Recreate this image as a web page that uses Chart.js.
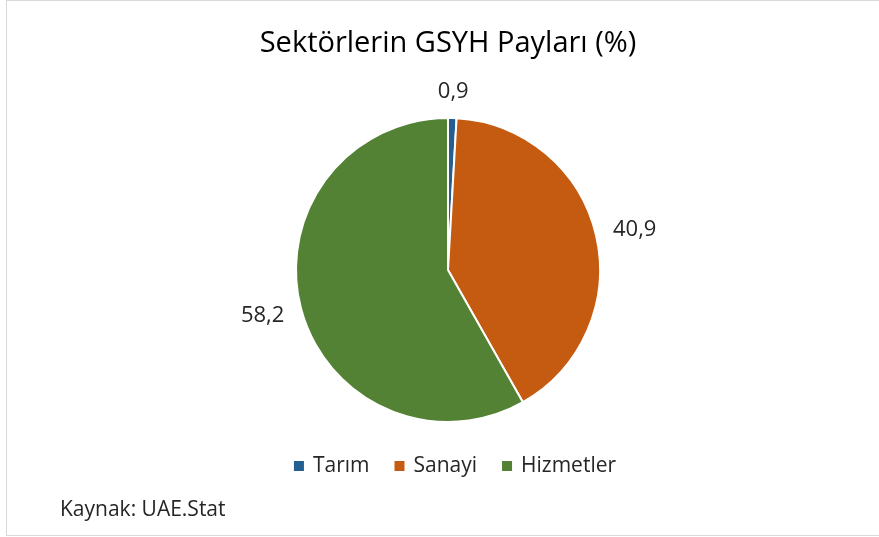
<!DOCTYPE html>
<html>
<head>
<meta charset="utf-8">
<script src="https://cdn.jsdelivr.net/npm/chart.js@4/dist/chart.umd.min.js"></script>
<style>
  html, body { margin: 0; padding: 0; background: #fff; }
  #wrap { width: 879px; height: 537px; }
</style>
</head>
<body>
<div id="wrap"><canvas id="chart" width="879" height="537"></canvas></div>
<script>
const sectors = ['Tarım', 'Sanayi', 'Hizmetler'];
const shares = [0.9, 40.9, 58.2];
const sliceColors = ['#255E91', '#C55A11', '#548235'];
const chartTitle = 'Sektörlerin GSYH Payları (%)';
const sourceNote = 'Kaynak: UAE.Stat';

const fontFamily = '"Open Sans", "Noto Sans", sans-serif';

// border, legend row and source line
const framePlugin = {
  id: 'frame',
  afterDraw(chart) {
    const c = chart.ctx;
    c.save();
    c.strokeStyle = '#D9D9D9';
    c.lineWidth = 1;
    c.strokeRect(6.5, 0.5, 900, 535);

    // legend
    c.font = '21px ' + fontFamily;
    c.textBaseline = 'middle';
    c.textAlign = 'left';
    const box = 10, gapText = 9, gapItem = 25;
    const widths = sectors.map(s => box + gapText + c.measureText(s).width);
    const total = widths.reduce((a, b) => a + b, 0) + gapItem * (sectors.length - 1);
    let x = 455 - total / 2;
    const y = 466;
    sectors.forEach((s, i) => {
      c.fillStyle = sliceColors[i];
      c.fillRect(x, y - box / 2, box, box);
      c.fillStyle = '#262626';
      c.fillText(s, x + box + gapText, y);
      x += widths[i] + gapItem;
    });

    c.fillStyle = '#262626';
    c.font = '21px ' + fontFamily;
    c.fillText(sourceNote, 60, 510);
    c.restore();
  }
};

// value labels outside the slices
const outsideLabels = {
  id: 'outsideLabels',
  afterDatasetsDraw(chart) {
    const c = chart.ctx;
    const meta = chart.getDatasetMeta(0);
    c.save();
    c.font = '22px ' + fontFamily;
    c.fillStyle = '#262626';
    c.textAlign = 'center';
    c.textBaseline = 'middle';
    meta.data.forEach((arc, i) => {
      const p = arc.getProps(['x', 'y', 'startAngle', 'endAngle', 'outerRadius'], true);
      const mid = (p.startAngle + p.endAngle) / 2;
      const dx = Math.cos(mid), dy = Math.sin(mid);
      const txt = shares[i].toFixed(1).replace('.', ',');
      const w = c.measureText(txt).width;
      const r = p.outerRadius + 18;
      const x = p.x + dx * r + dx * w / 2;
      const y = p.y + dy * r + dy * 8;
      c.fillText(txt, x, y);
    });
    c.restore();
  }
};

new Chart(document.getElementById('chart'), {
  type: 'pie',
  data: {
    labels: sectors,
    datasets: [{
      data: shares,
      backgroundColor: sliceColors,
      borderColor: '#ffffff',
      borderWidth: 2,
      radius: 152
    }]
  },
  options: {
    responsive: false,
    animation: false,
    layout: { padding: { left: 17, right: 0, top: 0, bottom: 90 } },
    plugins: {
      title: {
        display: true,
        text: chartTitle,
        color: '#000000',
        font: { family: fontFamily, size: 29, weight: 'normal' },
        padding: { top: 26, bottom: 32 }
      },
      legend: { display: false },
      tooltip: { enabled: false }
    }
  },
  plugins: [outsideLabels, framePlugin]
});
</script>
</body>
</html>
